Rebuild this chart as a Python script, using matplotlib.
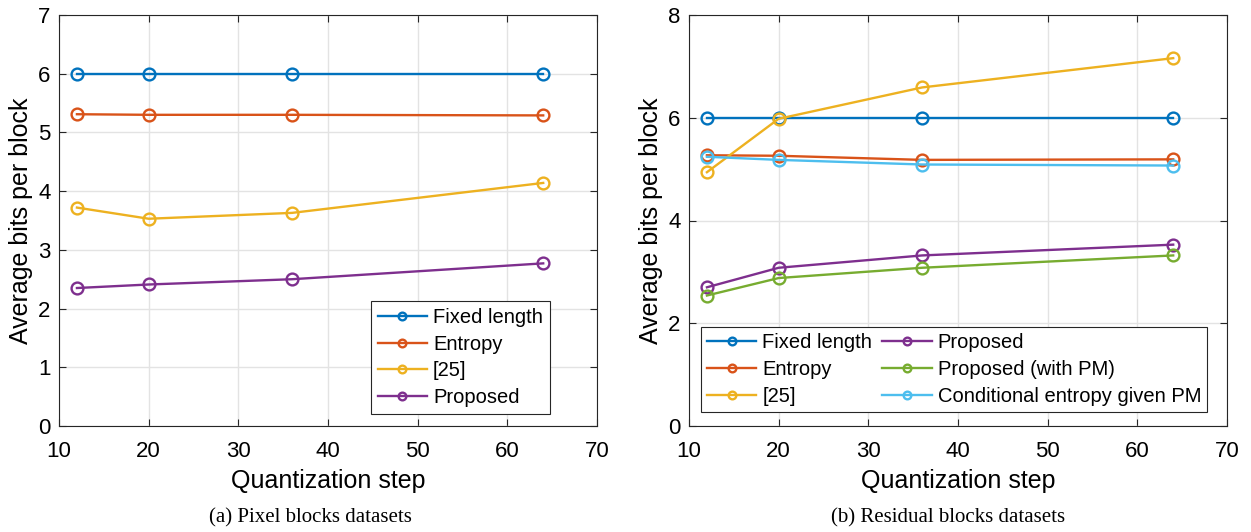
import numpy as np
import matplotlib.pyplot as plt

plt.rcParams['font.family'] = ['Liberation Sans', 'DejaVu Sans']

# Данные ---------------------------------------------------------------
steps = [12, 20, 36, 64]

# (a) Pixel blocks
pix_fixed = [6.0, 6.0, 6.0, 6.0]
pix_entropy = [5.31, 5.30, 5.30, 5.29]
pix_ref25 = [3.72, 3.53, 3.63, 4.14]
pix_proposed = [2.35, 2.41, 2.50, 2.77]

# (b) Residual blocks
res_fixed = [6.0, 6.0, 6.0, 6.0]
res_entropy = [5.27, 5.26, 5.18, 5.19]
res_ref25 = [4.94, 5.98, 6.59, 7.16]
res_proposed = [2.70, 3.08, 3.32, 3.53]
res_proposed_pm = [2.54, 2.88, 3.08, 3.32]
res_cond = [5.24, 5.18, 5.09, 5.07]

# MATLAB colors
c_blue = '#0072BD'
c_orange = '#D95319'
c_yellow = '#EDB120'
c_purple = '#7E2F8E'
c_green = '#77AC30'
c_cyan = '#4DBEEE'

style = dict(marker='o', markerfacecolor='none', markersize=8.5,
             markeredgewidth=1.7, linewidth=1.7)

W, H = 1251, 532
fig = plt.figure(figsize=(W / 100, H / 100), dpi=100)
# оси в пикселях: x 59..597 / 689..1227, y 15..426
ax1 = fig.add_axes([59 / W, (H - 426) / H, 538 / W, 411 / H])
ax2 = fig.add_axes([689 / W, (H - 426) / H, 538 / W, 411 / H])

ax1.plot(steps, pix_fixed, color=c_blue, label='Fixed length', **style)
ax1.plot(steps, pix_entropy, color=c_orange, label='Entropy', **style)
ax1.plot(steps, pix_ref25, color=c_yellow, label='[25]', **style)
ax1.plot(steps, pix_proposed, color=c_purple, label='Proposed', **style)
ax1.set_ylim(0, 7)
ax1.set_yticks(range(0, 8))

ax2.plot(steps, res_fixed, color=c_blue, label='Fixed length', **style)
ax2.plot(steps, res_entropy, color=c_orange, label='Entropy', **style)
ax2.plot(steps, res_ref25, color=c_yellow, label='[25]', **style)
ax2.plot(steps, res_proposed, color=c_purple, label='Proposed', **style)
ax2.plot(steps, res_proposed_pm, color=c_green, label='Proposed (with PM)', **style)
ax2.plot(steps, res_cond, color=c_cyan, label='Conditional entropy given PM', **style)
ax2.set_ylim(0, 8)
ax2.set_yticks(range(0, 9, 2))

for ax in (ax1, ax2):
    ax.set_xlim(10, 70)
    ax.set_xticks(range(10, 71, 10))
    ax.grid(True, color='#e3e3e3', linewidth=1)
    ax.set_axisbelow(True)
    ax.tick_params(direction='in', top=True, right=True, labelsize=16,
                   length=5, color='#262626')
    ax.tick_params(axis='x', pad=11)
    ax.tick_params(axis='y', pad=6)
    for s in ax.spines.values():
        s.set_color('#262626')
        s.set_linewidth(0.8)
    ax.set_xlabel('Quantization step', fontsize=18, labelpad=5)
    ax.set_ylabel('Average bits per block', fontsize=18, labelpad=4)

leg_kw = dict(fontsize=14.5, fancybox=False, edgecolor='#262626',
              framealpha=1, handlelength=2.45, handletextpad=0.3,
              borderaxespad=0, markerscale=0.65)

leg1 = ax1.legend(loc='lower right', bbox_to_anchor=(0.9126, 0.029),
                  labelspacing=0.38, borderpad=0.35, **leg_kw)
leg1.get_frame().set_linewidth(0.8)

leg2 = ax2.legend(loc='lower left', bbox_to_anchor=(0.0223, 0.034), ncol=2,
                  labelspacing=0.4, columnspacing=0.5, borderpad=0.3,
                  **leg_kw)
leg2.get_frame().set_linewidth(0.8)

fig.text(0.248, 0.026, '(a) Pixel blocks datasets', ha='center', va='center',
         fontsize=15, family=['Liberation Serif', 'DejaVu Serif'])
fig.text(0.758, 0.026, '(b) Residual blocks datasets', ha='center', va='center',
         fontsize=15, family=['Liberation Serif', 'DejaVu Serif'])

fig.savefig('out.png', dpi=100)
